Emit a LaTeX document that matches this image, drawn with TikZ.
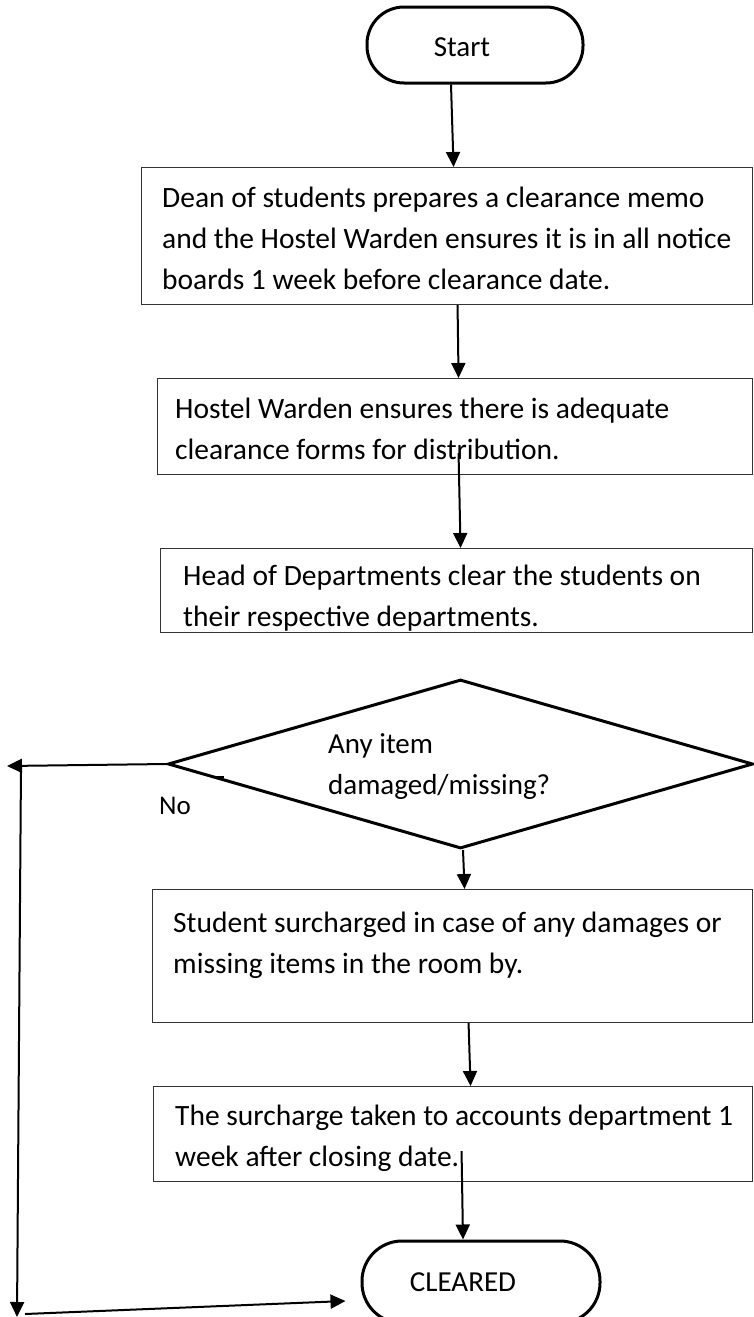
\documentclass[tikz,border=0pt]{standalone}
\usepackage{fontspec}
\setmainfont{Carlito}
\usetikzlibrary{shapes.geometric,arrows.meta,calc}
\begin{document}
\begin{tikzpicture}[x=1pt,y=-1pt,
  boxframe/.style={draw=black!80,line width=1.1pt,rectangle,inner sep=0pt,anchor=north west},
  term/.style={draw,line width=3pt,rectangle,inner sep=0pt},
  decision/.style={draw,line width=3pt,diamond,inner sep=0pt},
  bodytext/.style={anchor=base west,inner sep=0pt,font=\fontsize{29.5}{41}\selectfont},
  bigtext/.style={inner sep=0pt,font=\fontsize{29}{41}\selectfont},
  arr/.style={line width=2pt,-{Triangle[length=15pt,width=14pt]}},
]
\useasboundingbox (0,0) rectangle (753,1317);
\fill[white] (0,0) rectangle (753,1317);

% terminators
\node[term,rounded corners=37pt,minimum width=216pt,minimum height=76pt] (start) at (475,45) {};
\node[bigtext] (startlabel) at (462,47) {Start};
\node[term,rounded corners=40pt,minimum width=238pt,minimum height=82pt] (clr) at (481,1282) {};
\node[bigtext] (clrlabel) at (463,1282) {CLEARED};

% process boxes
\node[boxframe,minimum width=611pt,minimum height=137pt] (b1) at (141,167) {};
\node[bodytext] (b1l1) at (162,207) {Dean of students prepares a clearance memo};
\node[bodytext] (b1l2) at (162,248) {and the Hostel Warden ensures it is in all notice};
\node[bodytext] (b1l3) at (162,289) {boards 1 week before clearance date.};

\node[boxframe,minimum width=595pt,minimum height=96pt] (b2) at (157,378) {};
\node[bodytext] (b2l1) at (175,418) {Hostel Warden ensures there is adequate};
\node[bodytext] (b2l2) at (175,459) {clearance forms for distribution.};

\node[boxframe,minimum width=592pt,minimum height=84pt] (b3) at (160,548) {};
\node[bodytext] (b3l1) at (183,585) {Head of Departments clear the students on};
\node[bodytext] (b3l2) at (183,626) {their respective departments.};

\node[boxframe,minimum width=600pt,minimum height=133pt] (b4) at (152,889) {};
\node[bodytext] (b4l1) at (173,932) {Student surcharged in case of any damages or};
\node[bodytext] (b4l2) at (173,973) {missing items in the room by.};

\node[boxframe,minimum width=599pt,minimum height=95pt] (b5) at (153,1086) {};
\node[bodytext] (b5l1) at (175,1125) {The surcharge taken to accounts department 1};
\node[bodytext] (b5l2) at (175,1166) {week after closing date.};

% decision
\node[decision,minimum width=585pt,minimum height=169pt] (dec) at (460.5,764) {};
\node[bigtext,anchor=base west] (decl1) at (328,753) {Any item};
\node[bigtext,anchor=base west] (decl2) at (328,794) {damaged/missing?};
\node[bodytext,font=\fontsize{27}{41}\selectfont] (nolabel) at (159,814) {No};
\draw[line width=2pt] (213,777) -- (224,777);

% free ends of the "No" route
\coordinate (noend) at (7,766);
\coordinate (vtop) at (21,765);
\coordinate (vbot) at (17,1317);
\coordinate (hstart) at (25,1314);

% connectors
\draw[arr] ([xshift=-24pt]start.south) -- ([xshift=6.5pt]b1.north);
\draw[arr] ([xshift=10.5pt]b1.south) -- ([xshift=3.5pt]b2.north);
\draw[arr] ($(b2.south)+(3.5,-22)$) -- ([xshift=4pt]b3.north);
\draw[arr] ([xshift=2.5pt]dec.south) -- ([xshift=12pt]b4.north);
\draw[arr] ([xshift=16pt]b4.south) -- ([xshift=17.5pt]b5.north);
\draw[arr] ($(b5.south)+(8.5,-31)$) -- ([xshift=-18pt]clr.north);
\draw[arr] (dec.west) -- (noend);
\draw[arr] (vtop) -- (vbot);
\draw[arr] (hstart) -- ($(clr.west)+(-15,19)$);
\end{tikzpicture}
\end{document}
